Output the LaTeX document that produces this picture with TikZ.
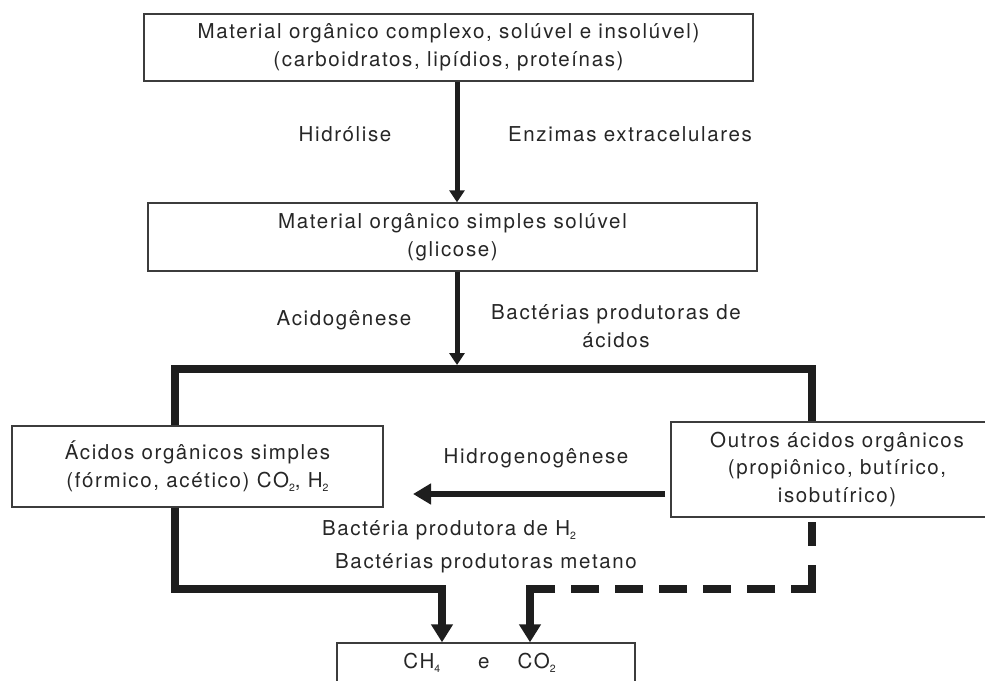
\documentclass[tikz,border=0pt]{standalone}
\usepackage{fontspec}
\setmainfont{TeX Gyre Heros}[LetterSpace=8]
\usetikzlibrary{arrows.meta,calc}
\definecolor{linec}{HTML}{1E1E1E}
\definecolor{boxc}{HTML}{3C3C3C}
\definecolor{txt}{HTML}{262626}
\newcommand\subn[1]{\raisebox{-0.4ex}{\fontsize{10.5}{10.5}\selectfont #1}}
\begin{document}
\begin{tikzpicture}[x=1pt,y=-1pt,
  font=\fontsize{20.5}{27.5}\selectfont,
  box/.style={draw=boxc, line width=1.4pt, rectangle, inner sep=0pt, align=center, text=txt},
  lbl/.style={text=txt, align=center, inner sep=0pt},
  thinarr/.style={draw=linec, line width=5pt, -{Triangle[length=12pt,width=15pt]}},
  thickln/.style={draw=linec, line width=8pt, line join=miter},
  bigarr/.style={thickln, -{Triangle[length=18pt,width=21pt]}},
  hydroarr/.style={draw=linec, line width=6.5pt, -{Triangle[length=18pt,width=20pt]}},
  dasharr/.style={bigarr, dash pattern=on 24pt off 19pt on 45pt off 16pt on 28pt off 16pt on 28pt off 16pt on 28pt off 16pt on 28pt off 16pt on 28pt off 16pt on 300pt}
]
\clip (0,0) rectangle (985,680);
\fill[white] (0,0) rectangle (985,680);

\node[box, minimum width=609pt, minimum height=67pt] (top) at (448.5,47.5)
  {Material orgânico complexo, solúvel e insolúvel)\\(carboidratos, lipídios, proteínas)};
\node[box, minimum width=609pt, minimum height=68pt] (mid) at (452.5,237)
  {Material orgânico simples solúvel\\(glicose)};
\node[box, minimum width=371pt, minimum height=81pt] (left) at (197.5,466.5)
  {Ácidos orgânicos simples\\(fórmico, acético) CO\subn{2}, H\subn{2}};
\node[box, minimum width=332pt, minimum height=95pt] (right) at (837,469.5)
  {Outros ácidos orgânicos\\(propiônico, butírico,\\isobutírico)};
\node[box, minimum width=298pt, minimum height=39pt] (bot) at (486,662.5)
  {CH\subn{4}\hspace{38pt}e\hspace{28pt}CO\subn{2}\hspace*{13pt}};

\node[lbl] (hid) at (345,134) {Hidrólise};
\node[lbl] (enz) at (630,134) {Enzimas extracelulares};
\node[lbl] (aci) at (344,320) {Acidogênese};
\node[lbl] (bpa) at (616,326) {Bactérias produtoras de\\ácidos};
\node[lbl] (hyd) at (536,458) {Hidrogenogênese};
\node[lbl] (bph) at (449,530) {Bactéria produtora de H\subn{2}};
\node[lbl] (bpm) at (486,563) {Bactérias produtoras metano};

\coordinate (cA) at (457,0);
\coordinate (cL) at (175,0);
\coordinate (cR) at (812,0);
\coordinate (cB1) at (442,0);
\coordinate (cB2) at (530,0);
\coordinate (bar) at (0,369);
\coordinate (low) at (0,589);
\coordinate (tipA) at (457,365);
\coordinate (dstart) at (812,522);
\coordinate (hs) at (665,494);
\coordinate (he) at (413,494);

\draw[thinarr] (top.south -| cA) -- (mid.north -| cA);
\draw[thinarr] (mid.south -| cA) -- (tipA);
\draw[thickln] (left.north -| cL) |- (cR |- bar) -- (right.north -| cR);
\draw[bigarr] (left.south -| cL) |- (cB1 |- low) -- (bot.north -| cB1);
\draw[dasharr] (dstart) -- (cR |- low) -- (cB2 |- low) -- (bot.north -| cB2);
\draw[hydroarr] (hs) -- (he);
\end{tikzpicture}
\end{document}
